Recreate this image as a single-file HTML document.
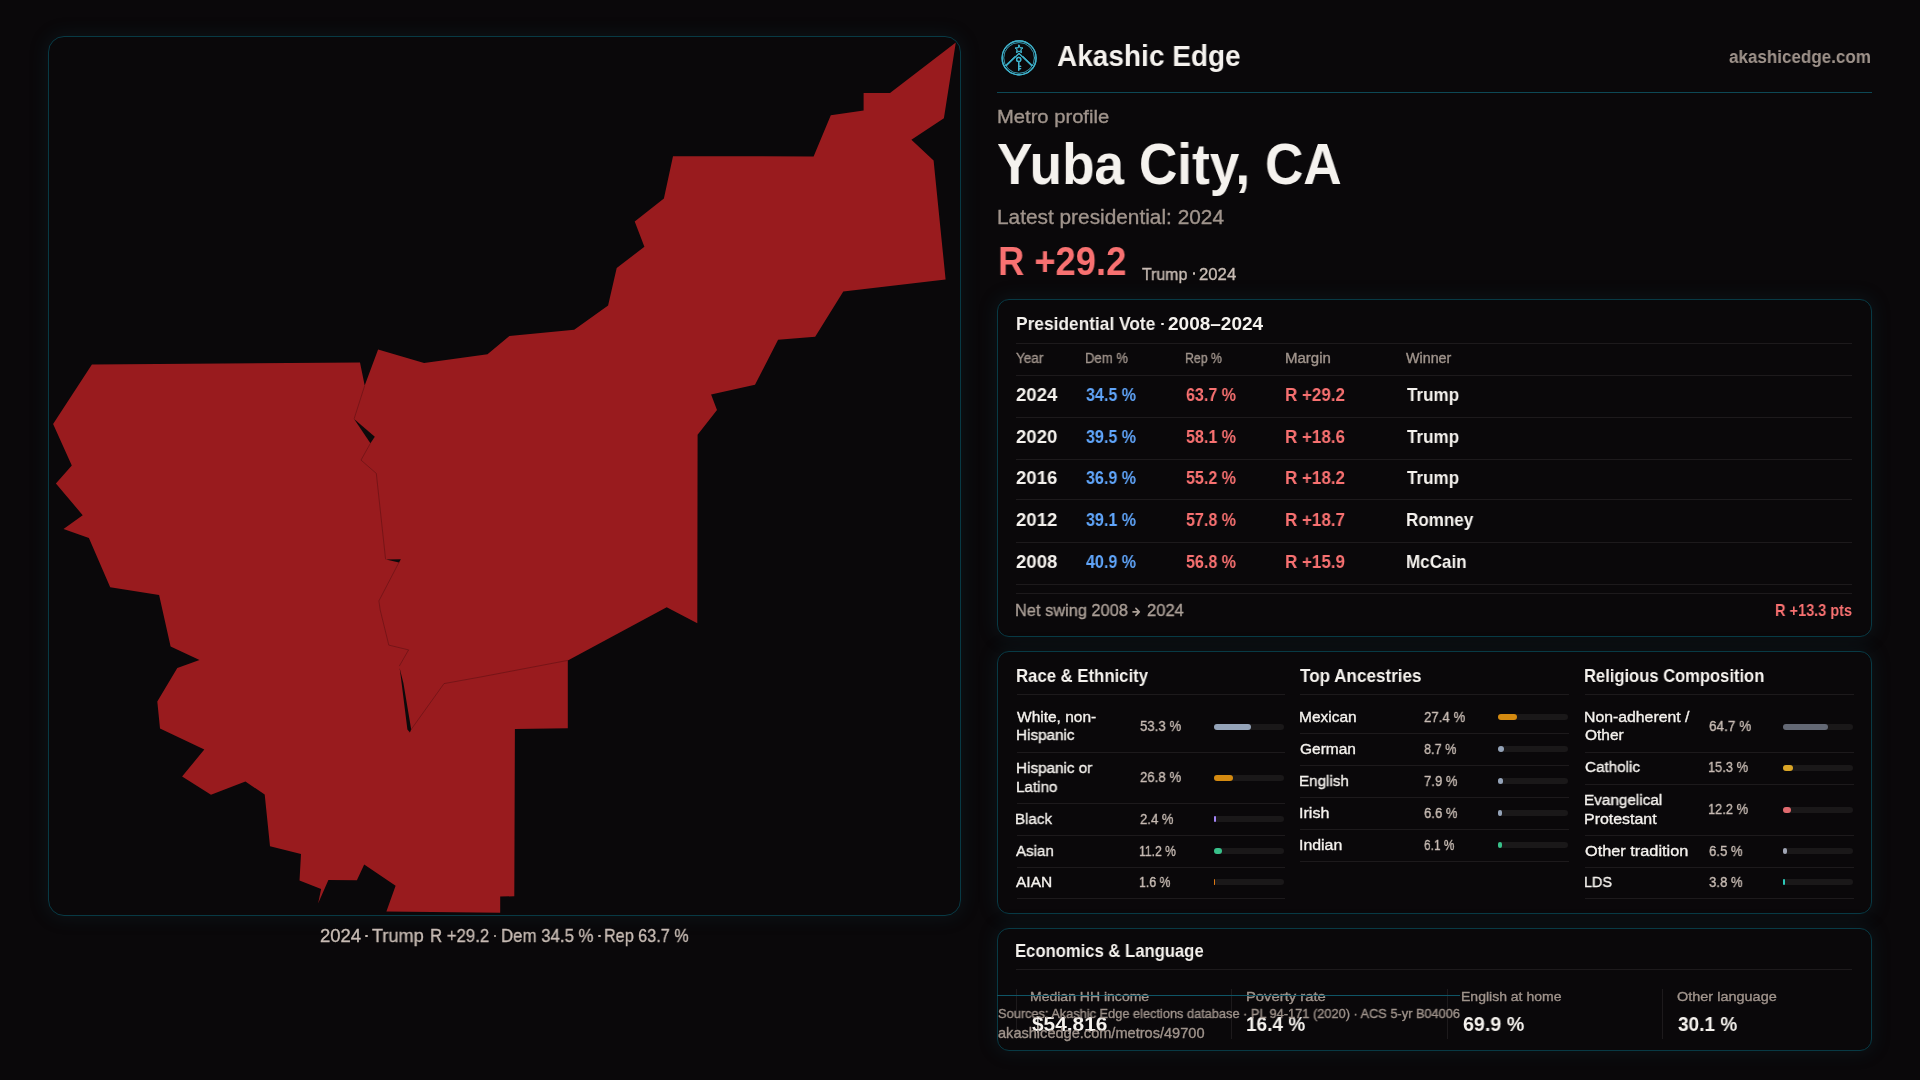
<!DOCTYPE html><html><head><meta charset="utf-8"><style>*{margin:0;padding:0;box-sizing:border-box}
html,body{width:1920px;height:1080px;overflow:hidden;background:#0a080a;font-family:"Liberation Sans",sans-serif}
.card{position:absolute;border:1px solid #083a45;background:#0a080a;box-shadow:0 0 18px 2px rgba(20,70,85,0.18)}
.map{position:absolute;left:0;top:0}
.logo{position:absolute}
.t{position:absolute;white-space:nowrap;transform-origin:0 0;will-change:transform}
.m{-webkit-text-stroke:0.35px currentColor}
.ln{position:absolute}
.bt{position:absolute;height:6px;border-radius:3px;background:#1a1819}
.bf{height:6px;border-radius:3px}
</style></head><body>
<div class="card" style="left:48px;top:36px;width:913px;height:880px;border-radius:16px"></div>
<div class="card" style="left:997px;top:299px;width:875px;height:338px;border-radius:12px"></div>
<div class="card" style="left:997px;top:651px;width:875px;height:263px;border-radius:12px"></div>
<div class="card" style="left:997px;top:928px;width:875px;height:123px;border-radius:12px"></div>
<svg class="map" width="1920" height="1080" viewBox="0 0 1920 1080"><polygon points="955.8,42.5 943.9,118.3 911.4,139.7 933.6,160.6 945.6,279.4 843.3,291.4 815.2,336.7 778.1,339.8 755.0,384.8 711.1,394.4 717.0,410.0 697.6,434.8 697.3,623.3 666.7,607.3 567.8,660.4 567.8,728.2 514.9,728.9 514.3,896.2 500.2,896.6 500.2,912.8 386.4,911.5 395.6,885.7 364.2,864.4 356.9,880.2 328.4,879.9 318.1,903.6 321.1,888.9 299.5,880.5 301.0,854.0 270.0,846.3 264.7,794.5 245.4,781.5 211.0,794.8 182.1,776.5 204.3,749.5 160.0,728.6 157.3,701.4 177.3,668.0 199.5,660.0 170.6,646.5 159.1,594.9 110.2,587.3 88.9,538.1 63.5,528.9 82.7,515.2 55.9,483.4 71.8,465.4 53.1,423.9 91.9,364.4 360.0,362.6 364.7,385.6 378.1,349.6 424.1,363.0 487.5,354.2 509.4,336.1 574.2,329.7 608.1,305.6 616.7,268.1 644.4,246.7 634.7,221.4 663.9,198.4 673.0,156.3 813.6,156.4 830.8,115.3 863.6,110.6 863.6,93.1 890.0,93.1" fill="#991b1e"/><polygon points="354.1,418.9 374.8,436.7 370.4,443.3" fill="#0c0a0b"/><polygon points="386.0,559.6 400.9,559.2 399.0,562.5" fill="#0c0a0b"/><polygon points="399.6,668.0 403.4,683.0 411.2,729.6 409.9,732.6 407.4,729.6 400.6,675.0" fill="#0c0a0b"/><polyline points="364.7,385.6 354.1,418.9" fill="none" stroke="#3a0a0c" stroke-width="0.7" stroke-opacity="0.5"/><polyline points="370.4,443.3 361.0,460.1 376.3,473.4 385.6,559.4" fill="none" stroke="#3a0a0c" stroke-width="0.7" stroke-opacity="0.5"/><polyline points="399.0,562.3 378.9,600.9 380.2,610.0 388.8,645.1 408.6,649.9 399.3,666.1" fill="none" stroke="#3a0a0c" stroke-width="0.7" stroke-opacity="0.5"/><polyline points="409.2,732.2 444.0,683.6 480.0,677.1 567.8,660.4" fill="none" stroke="#3a0a0c" stroke-width="0.7" stroke-opacity="0.5"/></svg>
<svg class="logo" width="38" height="38" viewBox="0 0 38 38" style="left:1000px;top:39px">
<defs><filter id="gl" x="-30%" y="-30%" width="160%" height="160%"><feGaussianBlur stdDeviation="0.7" result="b"/><feMerge><feMergeNode in="b"/><feMergeNode in="SourceGraphic"/></feMerge></filter></defs>
<g fill="none" stroke="#3fb3cd" filter="url(#gl)" stroke-linecap="round" stroke-linejoin="round">
<circle cx="19.1" cy="18.9" r="17" stroke-width="1.2"/>
<circle cx="19.1" cy="18.9" r="15.4" stroke-width="0.7" stroke-opacity="0.75"/>
<path d="M19 6.2 L20.1 8.8 L22.9 9 L20.8 10.8 L21.5 13.6 L19 12.1 L16.5 13.6 L17.2 10.8 L15.1 9 L17.9 8.8 Z" stroke-width="0.9"/>
<path d="M19 14.4 L6.3 26.6 M19 14.4 L31.7 26.6" stroke-width="1.1"/>
<path d="M14.6 17.6 L5 26.8 M23.4 17.6 L33 26.8" stroke-width="0.8" stroke-opacity="0.8"/>
<circle cx="18.7" cy="20.4" r="2.1" stroke-width="1.2"/>
<path d="M18.7 22.5 V31.2 M18.7 27.4 H20.6 M18.7 29.6 H20.6" stroke-width="1.3"/>
</g></svg>
<div class="ln" style="left:997.0px;top:92.1px;width:875.0px;height:1px;background:#0d4855"></div><div class="ln" style="left:1016.0px;top:342.9px;width:836.0px;height:1px;background:#1d1a1c"></div><div class="ln" style="left:1016.0px;top:374.8px;width:836.0px;height:1px;background:#1d1a1c"></div><div class="ln" style="left:1016.0px;top:416.9px;width:836.0px;height:1px;background:#1d1a1c"></div><div class="ln" style="left:1016.0px;top:458.8px;width:836.0px;height:1px;background:#1d1a1c"></div><div class="ln" style="left:1016.0px;top:499.0px;width:836.0px;height:1px;background:#1d1a1c"></div><div class="ln" style="left:1016.0px;top:541.5px;width:836.0px;height:1px;background:#1d1a1c"></div><div class="ln" style="left:1016.0px;top:583.8px;width:836.0px;height:1px;background:#1d1a1c"></div><div class="ln" style="left:1016.0px;top:592.6px;width:836.0px;height:1px;background:#1d1a1c"></div><div class="ln" style="left:1016.5px;top:693.7px;width:268.5px;height:1px;background:#1d1a1c"></div><div class="ln" style="left:1016.5px;top:752.0px;width:268.5px;height:1px;background:#1d1a1c"></div><div class="ln" style="left:1016.5px;top:802.9px;width:268.5px;height:1px;background:#1d1a1c"></div><div class="ln" style="left:1016.5px;top:834.8px;width:268.5px;height:1px;background:#1d1a1c"></div><div class="ln" style="left:1016.5px;top:866.9px;width:268.5px;height:1px;background:#1d1a1c"></div><div class="ln" style="left:1016.5px;top:897.9px;width:268.5px;height:1px;background:#1d1a1c"></div><div class="ln" style="left:1300.2px;top:693.7px;width:268.5px;height:1px;background:#1d1a1c"></div><div class="ln" style="left:1300.2px;top:732.9px;width:268.5px;height:1px;background:#1d1a1c"></div><div class="ln" style="left:1300.2px;top:764.7px;width:268.5px;height:1px;background:#1d1a1c"></div><div class="ln" style="left:1300.2px;top:796.8px;width:268.5px;height:1px;background:#1d1a1c"></div><div class="ln" style="left:1300.2px;top:828.6px;width:268.5px;height:1px;background:#1d1a1c"></div><div class="ln" style="left:1300.2px;top:861.0px;width:268.5px;height:1px;background:#1d1a1c"></div><div class="ln" style="left:1585.3px;top:693.7px;width:268.5px;height:1px;background:#1d1a1c"></div><div class="ln" style="left:1585.3px;top:752.0px;width:268.5px;height:1px;background:#1d1a1c"></div><div class="ln" style="left:1585.3px;top:783.8px;width:268.5px;height:1px;background:#1d1a1c"></div><div class="ln" style="left:1585.3px;top:834.7px;width:268.5px;height:1px;background:#1d1a1c"></div><div class="ln" style="left:1585.3px;top:866.7px;width:268.5px;height:1px;background:#1d1a1c"></div><div class="ln" style="left:1585.3px;top:897.9px;width:268.5px;height:1px;background:#1d1a1c"></div><div class="ln" style="left:1016.0px;top:969.0px;width:836.0px;height:1px;background:#1d1a1c"></div><div class="ln" style="left:1016.3px;top:989.3px;width:1px;height:49.3px;background:#1d1a1c"></div><div class="ln" style="left:1231.0px;top:989.3px;width:1px;height:49.3px;background:#1d1a1c"></div><div class="ln" style="left:1446.8px;top:989.3px;width:1px;height:49.3px;background:#1d1a1c"></div><div class="ln" style="left:1661.8px;top:989.3px;width:1px;height:49.3px;background:#1d1a1c"></div>
<div class="ln" style="left:1192.90px;top:272.40px;width:2.6px;height:2.6px;border-radius:50%;background:#c8bcb4"></div><div class="ln" style="left:1161.40px;top:322.90px;width:2.6px;height:2.6px;border-radius:50%;background:#f5f2ee"></div><div class="ln" style="left:365.20px;top:934.80px;width:2.6px;height:2.6px;border-radius:50%;background:#c8bcb4"></div><div class="ln" style="left:493.90px;top:934.80px;width:2.6px;height:2.6px;border-radius:50%;background:#c8bcb4"></div><div class="ln" style="left:598.40px;top:934.80px;width:2.6px;height:2.6px;border-radius:50%;background:#c8bcb4"></div><div class="bt" style="left:1213.9px;top:723.9px;width:70.5px"><div class="bf" style="width:37.58px;background:#94a3b8"></div></div><div class="bt" style="left:1213.9px;top:774.9px;width:70.5px"><div class="bf" style="width:18.89px;background:#d48a10"></div></div><div class="bt" style="left:1213.9px;top:815.9px;width:70.5px"><div class="bf" style="width:1.69px;background:#a384f6"></div></div><div class="bt" style="left:1213.9px;top:847.9px;width:70.5px"><div class="bf" style="width:7.90px;background:#38c08a"></div></div><div class="bt" style="left:1213.9px;top:879.0px;width:70.5px"><div class="bf" style="width:1.13px;background:#dc7814"></div></div><div class="bt" style="left:1497.6px;top:714.1px;width:70.5px"><div class="bf" style="width:19.32px;background:#d48a10"></div></div><div class="bt" style="left:1497.6px;top:745.9px;width:70.5px"><div class="bf" style="width:6.13px;background:#94a3b8"></div></div><div class="bt" style="left:1497.6px;top:778.0px;width:70.5px"><div class="bf" style="width:5.57px;background:#94a3b8"></div></div><div class="bt" style="left:1497.6px;top:810.0px;width:70.5px"><div class="bf" style="width:4.65px;background:#94a3b8"></div></div><div class="bt" style="left:1497.6px;top:842.2px;width:70.5px"><div class="bf" style="width:4.30px;background:#38c08a"></div></div><div class="bt" style="left:1782.7px;top:724.0px;width:70.5px"><div class="bf" style="width:45.61px;background:#636874"></div></div><div class="bt" style="left:1782.7px;top:765.0px;width:70.5px"><div class="bf" style="width:10.79px;background:#daa526"></div></div><div class="bt" style="left:1782.7px;top:806.7px;width:70.5px"><div class="bf" style="width:8.60px;background:#e06a6e"></div></div><div class="bt" style="left:1782.7px;top:847.7px;width:70.5px"><div class="bf" style="width:4.58px;background:#a0a5b4"></div></div><div class="bt" style="left:1782.7px;top:878.8px;width:70.5px"><div class="bf" style="width:2.68px;background:#2dc8b9"></div></div>
<div class="t" id="brand" style="left:1056.80px;top:41.31px;font-size:30.00px;line-height:30.00px;color:#f5f2ee;font-weight:700;transform:scaleX(0.9335);">Akashic Edge</div>
<div class="t" id="dom" style="left:1729.43px;top:48.36px;font-size:18.00px;line-height:18.00px;color:#a0948c;font-weight:700;transform:scaleX(0.9460);">akashicedge.com</div>
<div class="t m" id="mp" style="left:997.13px;top:108.36px;font-size:18.00px;line-height:18.00px;color:#a0948c;font-weight:400;transform:scaleX(1.1210);">Metro profile</div>
<div class="t" id="city" style="left:997.45px;top:134.90px;font-size:58.00px;line-height:58.00px;color:#f5f2ee;font-weight:700;transform:scaleX(0.9169);">Yuba City, CA</div>
<div class="t m" id="latest" style="left:997.06px;top:207.47px;font-size:20.00px;line-height:20.00px;color:#a0948c;font-weight:400;transform:scaleX(1.0415);">Latest presidential: 2024</div>
<div class="t" id="big" style="left:997.76px;top:241.34px;font-size:40.00px;line-height:40.00px;color:#f87171;font-weight:700;transform:scaleX(0.9093);">R +29.2</div>
<div class="t m" id="trump" style="left:1141.53px;top:265.60px;font-size:16.30px;line-height:16.30px;color:#c8bcb4;font-weight:400;transform:scaleX(0.9742);">Trump</div>
<div class="t m" id="trump2" style="left:1198.50px;top:265.60px;font-size:16.30px;line-height:16.30px;color:#c8bcb4;font-weight:400;transform:scaleX(1.0278);">2024</div>
<div class="t" id="pv" style="left:1015.64px;top:314.42px;font-size:19.00px;line-height:19.00px;color:#f5f2ee;font-weight:700;transform:scaleX(0.9119);">Presidential Vote</div>
<div class="t" id="pv2" style="left:1168.00px;top:314.42px;font-size:19.00px;line-height:19.00px;color:#f5f2ee;font-weight:700;transform:scaleX(0.9980);">2008–2024</div>
<div class="t m" id="h0" style="left:1016.40px;top:351.35px;font-size:14.00px;line-height:14.00px;color:#a0948c;font-weight:400;transform:scaleX(0.9670);">Year</div>
<div class="t m" id="h1" style="left:1085.25px;top:351.35px;font-size:14.00px;line-height:14.00px;color:#a0948c;font-weight:400;transform:scaleX(0.9340);">Dem %</div>
<div class="t m" id="h2" style="left:1185.11px;top:351.35px;font-size:14.00px;line-height:14.00px;color:#a0948c;font-weight:400;transform:scaleX(0.8789);">Rep %</div>
<div class="t m" id="h3" style="left:1285.46px;top:351.35px;font-size:14.00px;line-height:14.00px;color:#a0948c;font-weight:400;transform:scaleX(1.0720);">Margin</div>
<div class="t m" id="h4" style="left:1406.40px;top:351.35px;font-size:14.00px;line-height:14.00px;color:#a0948c;font-weight:400;transform:scaleX(1.0228);">Winner</div>
<div class="t" id="r0_0" style="left:1016.41px;top:385.42px;font-size:19.00px;line-height:19.00px;color:#f5f2ee;font-weight:700;transform:scaleX(0.9769);">2024</div>
<div class="t" id="r0_1" style="left:1086.38px;top:385.42px;font-size:19.00px;line-height:19.00px;color:#60a5fa;font-weight:700;transform:scaleX(0.8456);">34.5 %</div>
<div class="t" id="r0_2" style="left:1186.39px;top:385.42px;font-size:19.00px;line-height:19.00px;color:#f87171;font-weight:700;transform:scaleX(0.8451);">63.7 %</div>
<div class="t" id="r0_3" style="left:1285.36px;top:385.42px;font-size:19.00px;line-height:19.00px;color:#f87171;font-weight:700;transform:scaleX(0.8941);">R +29.2</div>
<div class="t" id="r0_4" style="left:1406.73px;top:385.42px;font-size:19.00px;line-height:19.00px;color:#f5f2ee;font-weight:700;transform:scaleX(0.8971);">Trump</div>
<div class="t" id="r1_0" style="left:1016.41px;top:427.42px;font-size:19.00px;line-height:19.00px;color:#f5f2ee;font-weight:700;transform:scaleX(0.9769);">2020</div>
<div class="t" id="r1_1" style="left:1086.38px;top:427.42px;font-size:19.00px;line-height:19.00px;color:#60a5fa;font-weight:700;transform:scaleX(0.8456);">39.5 %</div>
<div class="t" id="r1_2" style="left:1186.39px;top:427.42px;font-size:19.00px;line-height:19.00px;color:#f87171;font-weight:700;transform:scaleX(0.8451);">58.1 %</div>
<div class="t" id="r1_3" style="left:1285.36px;top:427.42px;font-size:19.00px;line-height:19.00px;color:#f87171;font-weight:700;transform:scaleX(0.8941);">R +18.6</div>
<div class="t" id="r1_4" style="left:1406.73px;top:427.42px;font-size:19.00px;line-height:19.00px;color:#f5f2ee;font-weight:700;transform:scaleX(0.8971);">Trump</div>
<div class="t" id="r2_0" style="left:1016.41px;top:467.92px;font-size:19.00px;line-height:19.00px;color:#f5f2ee;font-weight:700;transform:scaleX(0.9769);">2016</div>
<div class="t" id="r2_1" style="left:1086.38px;top:467.92px;font-size:19.00px;line-height:19.00px;color:#60a5fa;font-weight:700;transform:scaleX(0.8456);">36.9 %</div>
<div class="t" id="r2_2" style="left:1186.39px;top:467.92px;font-size:19.00px;line-height:19.00px;color:#f87171;font-weight:700;transform:scaleX(0.8451);">55.2 %</div>
<div class="t" id="r2_3" style="left:1285.36px;top:467.92px;font-size:19.00px;line-height:19.00px;color:#f87171;font-weight:700;transform:scaleX(0.8941);">R +18.2</div>
<div class="t" id="r2_4" style="left:1406.73px;top:467.92px;font-size:19.00px;line-height:19.00px;color:#f5f2ee;font-weight:700;transform:scaleX(0.8971);">Trump</div>
<div class="t" id="r3_0" style="left:1016.41px;top:510.32px;font-size:19.00px;line-height:19.00px;color:#f5f2ee;font-weight:700;transform:scaleX(0.9769);">2012</div>
<div class="t" id="r3_1" style="left:1086.38px;top:510.32px;font-size:19.00px;line-height:19.00px;color:#60a5fa;font-weight:700;transform:scaleX(0.8456);">39.1 %</div>
<div class="t" id="r3_2" style="left:1186.39px;top:510.32px;font-size:19.00px;line-height:19.00px;color:#f87171;font-weight:700;transform:scaleX(0.8451);">57.8 %</div>
<div class="t" id="r3_3" style="left:1285.36px;top:510.32px;font-size:19.00px;line-height:19.00px;color:#f87171;font-weight:700;transform:scaleX(0.8941);">R +18.7</div>
<div class="t" id="r3_4" style="left:1405.83px;top:510.32px;font-size:19.00px;line-height:19.00px;color:#f5f2ee;font-weight:700;transform:scaleX(0.8971);">Romney</div>
<div class="t" id="r4_0" style="left:1016.41px;top:552.32px;font-size:19.00px;line-height:19.00px;color:#f5f2ee;font-weight:700;transform:scaleX(0.9769);">2008</div>
<div class="t" id="r4_1" style="left:1086.26px;top:552.32px;font-size:19.00px;line-height:19.00px;color:#60a5fa;font-weight:700;transform:scaleX(0.8456);">40.9 %</div>
<div class="t" id="r4_2" style="left:1186.39px;top:552.32px;font-size:19.00px;line-height:19.00px;color:#f87171;font-weight:700;transform:scaleX(0.8451);">56.8 %</div>
<div class="t" id="r4_3" style="left:1285.36px;top:552.32px;font-size:19.00px;line-height:19.00px;color:#f87171;font-weight:700;transform:scaleX(0.8941);">R +15.9</div>
<div class="t" id="r4_4" style="left:1405.83px;top:552.32px;font-size:19.00px;line-height:19.00px;color:#f5f2ee;font-weight:700;transform:scaleX(0.8971);">McCain</div>
<div class="t m" id="ns" style="left:1015.25px;top:602.21px;font-size:17.00px;line-height:17.00px;color:#aca098;font-weight:400;transform:scaleX(0.9636);">Net swing 2008</div>
<div class="t m" id="ns2" style="left:1146.59px;top:602.21px;font-size:17.00px;line-height:17.00px;color:#aca098;font-weight:400;transform:scaleX(0.9739);">2024</div>
<div class="t" id="nsv" style="left:1775.32px;top:602.21px;font-size:17.00px;line-height:17.00px;color:#f87171;font-weight:700;transform:scaleX(0.8544);">R +13.3 pts</div>
<div class="t" id="s0" style="left:1015.57px;top:667.04px;font-size:18.50px;line-height:18.50px;color:#f5f2ee;font-weight:700;transform:scaleX(0.9044);">Race &amp; Ethnicity</div>
<div class="t" id="s1" style="left:1300.18px;top:667.04px;font-size:18.50px;line-height:18.50px;color:#f5f2ee;font-weight:700;transform:scaleX(0.9234);">Top Ancestries</div>
<div class="t" id="s2" style="left:1584.37px;top:667.04px;font-size:18.50px;line-height:18.50px;color:#f5f2ee;font-weight:700;transform:scaleX(0.8950);">Religious Composition</div>
<div class="t m" id="d0_0_0" style="left:1016.50px;top:708.78px;font-size:15.50px;line-height:15.50px;color:#f5f2ee;font-weight:400;">White, non-</div>
<div class="t m" id="d0_0_1" style="left:1015.50px;top:727.38px;font-size:15.50px;line-height:15.50px;color:#f5f2ee;font-weight:400;transform:scaleX(0.9832);">Hispanic</div>
<div class="t m" id="dv0_0" style="left:1140.40px;top:717.78px;font-size:15.50px;line-height:15.50px;color:#c8bcb4;font-weight:400;transform:scaleX(0.8526);">53.3 %</div>
<div class="t m" id="d0_1_0" style="left:1015.50px;top:759.98px;font-size:15.50px;line-height:15.50px;color:#f5f2ee;font-weight:400;transform:scaleX(0.9832);">Hispanic or</div>
<div class="t m" id="d0_1_1" style="left:1015.50px;top:778.88px;font-size:15.50px;line-height:15.50px;color:#f5f2ee;font-weight:400;transform:scaleX(0.9832);">Latino</div>
<div class="t m" id="dv0_1" style="left:1140.40px;top:769.08px;font-size:15.50px;line-height:15.50px;color:#c8bcb4;font-weight:400;transform:scaleX(0.8519);">26.8 %</div>
<div class="t m" id="d0_2_0" style="left:1015.47px;top:810.88px;font-size:15.50px;line-height:15.50px;color:#f5f2ee;font-weight:400;transform:scaleX(0.9746);">Black</div>
<div class="t m" id="dv0_2" style="left:1140.42px;top:810.88px;font-size:15.50px;line-height:15.50px;color:#c8bcb4;font-weight:400;transform:scaleX(0.8471);">2.4 %</div>
<div class="t m" id="d0_3_0" style="left:1016.46px;top:842.78px;font-size:15.50px;line-height:15.50px;color:#f5f2ee;font-weight:400;transform:scaleX(0.9756);">Asian</div>
<div class="t m" id="dv0_3" style="left:1139.44px;top:842.78px;font-size:15.50px;line-height:15.50px;color:#c8bcb4;font-weight:400;transform:scaleX(0.7834);">11.2 %</div>
<div class="t m" id="d0_4_0" style="left:1016.47px;top:873.88px;font-size:15.50px;line-height:15.50px;color:#f5f2ee;font-weight:400;">AIAN</div>
<div class="t m" id="dv0_4" style="left:1139.44px;top:873.88px;font-size:15.50px;line-height:15.50px;color:#c8bcb4;font-weight:400;transform:scaleX(0.7957);">1.6 %</div>
<div class="t m" id="d1_0_0" style="left:1299.18px;top:708.78px;font-size:15.50px;line-height:15.50px;color:#f5f2ee;font-weight:400;">Mexican</div>
<div class="t m" id="dv1_0" style="left:1424.00px;top:708.78px;font-size:15.50px;line-height:15.50px;color:#c8bcb4;font-weight:400;transform:scaleX(0.8548);">27.4 %</div>
<div class="t m" id="d1_1_0" style="left:1300.19px;top:740.88px;font-size:15.50px;line-height:15.50px;color:#f5f2ee;font-weight:400;">German</div>
<div class="t m" id="dv1_1" style="left:1424.00px;top:740.88px;font-size:15.50px;line-height:15.50px;color:#c8bcb4;font-weight:400;transform:scaleX(0.8211);">8.7 %</div>
<div class="t m" id="d1_2_0" style="left:1299.20px;top:772.68px;font-size:15.50px;line-height:15.50px;color:#f5f2ee;font-weight:400;transform:scaleX(0.9807);">English</div>
<div class="t m" id="dv1_2" style="left:1424.00px;top:772.68px;font-size:15.50px;line-height:15.50px;color:#c8bcb4;font-weight:400;transform:scaleX(0.8470);">7.9 %</div>
<div class="t m" id="d1_3_0" style="left:1299.18px;top:805.08px;font-size:15.50px;line-height:15.50px;color:#f5f2ee;font-weight:400;transform:scaleX(1.0373);">Irish</div>
<div class="t m" id="dv1_3" style="left:1424.00px;top:805.08px;font-size:15.50px;line-height:15.50px;color:#c8bcb4;font-weight:400;transform:scaleX(0.8471);">6.6 %</div>
<div class="t m" id="d1_4_0" style="left:1299.18px;top:836.88px;font-size:15.50px;line-height:15.50px;color:#f5f2ee;font-weight:400;transform:scaleX(1.0244);">Indian</div>
<div class="t m" id="dv1_4" style="left:1424.00px;top:836.88px;font-size:15.50px;line-height:15.50px;color:#c8bcb4;font-weight:400;transform:scaleX(0.7698);">6.1 %</div>
<div class="t m" id="d2_0_0" style="left:1584.30px;top:708.78px;font-size:15.50px;line-height:15.50px;color:#f5f2ee;font-weight:400;transform:scaleX(1.0196);">Non-adherent /</div>
<div class="t m" id="d2_0_1" style="left:1585.26px;top:727.38px;font-size:15.50px;line-height:15.50px;color:#f5f2ee;font-weight:400;">Other</div>
<div class="t m" id="dv2_0" style="left:1709.08px;top:717.78px;font-size:15.50px;line-height:15.50px;color:#c8bcb4;font-weight:400;transform:scaleX(0.8754);">64.7 %</div>
<div class="t m" id="d2_1_0" style="left:1585.29px;top:759.18px;font-size:15.50px;line-height:15.50px;color:#f5f2ee;font-weight:400;transform:scaleX(0.9826);">Catholic</div>
<div class="t m" id="dv2_1" style="left:1708.25px;top:759.18px;font-size:15.50px;line-height:15.50px;color:#c8bcb4;font-weight:400;transform:scaleX(0.8304);">15.3 %</div>
<div class="t m" id="d2_2_0" style="left:1584.30px;top:791.78px;font-size:15.50px;line-height:15.50px;color:#f5f2ee;font-weight:400;transform:scaleX(0.9871);">Evangelical</div>
<div class="t m" id="d2_2_1" style="left:1584.28px;top:810.58px;font-size:15.50px;line-height:15.50px;color:#f5f2ee;font-weight:400;transform:scaleX(1.0286);">Protestant</div>
<div class="t m" id="dv2_2" style="left:1708.25px;top:801.08px;font-size:15.50px;line-height:15.50px;color:#c8bcb4;font-weight:400;transform:scaleX(0.8304);">12.2 %</div>
<div class="t m" id="d2_3_0" style="left:1585.26px;top:842.68px;font-size:15.50px;line-height:15.50px;color:#f5f2ee;font-weight:400;transform:scaleX(1.0517);">Other tradition</div>
<div class="t m" id="dv2_3" style="left:1709.07px;top:842.68px;font-size:15.50px;line-height:15.50px;color:#c8bcb4;font-weight:400;transform:scaleX(0.8510);">6.5 %</div>
<div class="t m" id="d2_4_0" style="left:1584.34px;top:873.78px;font-size:15.50px;line-height:15.50px;color:#f5f2ee;font-weight:400;transform:scaleX(0.9320);">LDS</div>
<div class="t m" id="dv2_4" style="left:1709.07px;top:873.78px;font-size:15.50px;line-height:15.50px;color:#c8bcb4;font-weight:400;transform:scaleX(0.8510);">3.8 %</div>
<div class="t" id="ec" style="left:1015.28px;top:942.34px;font-size:18.50px;line-height:18.50px;color:#f5f2ee;font-weight:700;transform:scaleX(0.8997);">Economics &amp; Language</div>
<div class="t m" id="el0" style="left:1030.26px;top:990.34px;font-size:13.30px;line-height:13.30px;color:#a0948c;font-weight:400;transform:scaleX(1.0536);">Median HH income</div>
<div class="t" id="ev0" style="left:1031.79px;top:1013.77px;font-size:20.00px;line-height:20.00px;color:#f5f2ee;font-weight:700;transform:scaleX(1.0417);">$54,816</div>
<div class="t m" id="el1" style="left:1245.67px;top:990.34px;font-size:13.30px;line-height:13.30px;color:#a0948c;font-weight:400;transform:scaleX(1.1127);">Poverty rate</div>
<div class="t" id="ev1" style="left:1246.24px;top:1013.77px;font-size:20.00px;line-height:20.00px;color:#f5f2ee;font-weight:700;transform:scaleX(0.9511);">16.4 %</div>
<div class="t m" id="el2" style="left:1461.28px;top:990.34px;font-size:13.30px;line-height:13.30px;color:#a0948c;font-weight:400;transform:scaleX(1.0533);">English at home</div>
<div class="t" id="ev2" style="left:1462.80px;top:1013.77px;font-size:20.00px;line-height:20.00px;color:#f5f2ee;font-weight:700;transform:scaleX(0.9843);">69.9 %</div>
<div class="t m" id="el3" style="left:1677.13px;top:990.34px;font-size:13.30px;line-height:13.30px;color:#a0948c;font-weight:400;transform:scaleX(1.0882);">Other language</div>
<div class="t" id="ev3" style="left:1677.72px;top:1013.77px;font-size:20.00px;line-height:20.00px;color:#f5f2ee;font-weight:700;transform:scaleX(0.9520);">30.1 %</div>
<div class="t m" id="src" style="left:997.51px;top:1006.90px;font-size:13.00px;line-height:13.00px;color:#a0948c;font-weight:400;transform:scaleX(0.9830);">Sources: Akashic Edge elections database · PL 94-171 (2020) · ACS 5-yr B04006</div>
<div class="t m" id="url" style="left:997.50px;top:1026.43px;font-size:14.50px;line-height:14.50px;color:#a0948c;font-weight:400;transform:scaleX(1.0047);">akashicedge.com/metros/49700</div>
<div class="t m" id="cap0" style="left:319.50px;top:927.14px;font-size:18.50px;line-height:18.50px;color:#c8bcb4;font-weight:400;">2024</div>
<div class="t m" id="cap1" style="left:371.99px;top:927.14px;font-size:18.50px;line-height:18.50px;color:#c8bcb4;font-weight:400;transform:scaleX(0.9808);">Trump</div>
<div class="t m" id="cap2" style="left:430.11px;top:927.14px;font-size:18.50px;line-height:18.50px;color:#c8bcb4;font-weight:400;transform:scaleX(0.9062);">R +29.2</div>
<div class="t m" id="cap3" style="left:501.09px;top:927.14px;font-size:18.50px;line-height:18.50px;color:#c8bcb4;font-weight:400;transform:scaleX(0.9088);">Dem 34.5 %</div>
<div class="t m" id="cap4" style="left:604.45px;top:927.14px;font-size:18.50px;line-height:18.50px;color:#c8bcb4;font-weight:400;transform:scaleX(0.8758);">Rep 63.7 %</div>
<div class="ln" style="left:997px;top:994.9px;width:463px;height:1px;background:#0f5566"></div>
<svg style="position:absolute;left:1130px;top:604px" width="12" height="16" viewBox="1130 604 12 16"><path d="M1133 611.9 H1139 M1135.9 608.4 L1139.3 611.9 L1135.9 615.4" fill="none" stroke="#aca098" stroke-width="1.6" stroke-linecap="round" stroke-linejoin="round"/></svg>
</body></html>
